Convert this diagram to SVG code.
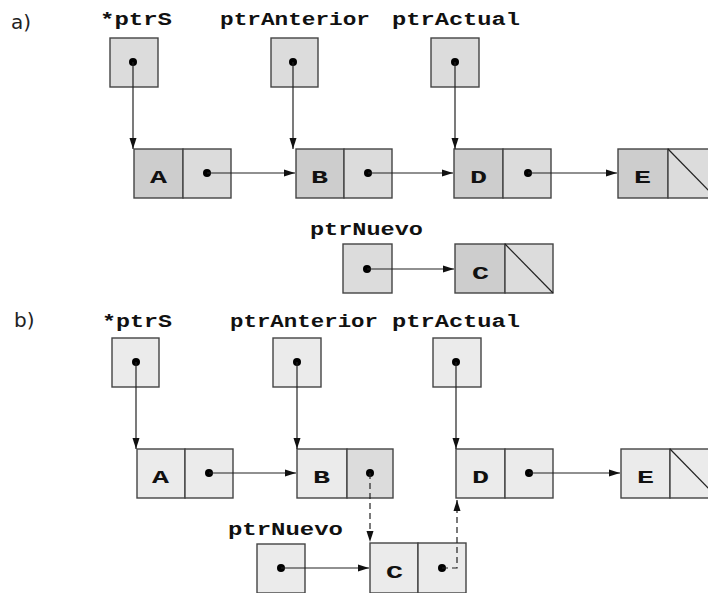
<svg xmlns="http://www.w3.org/2000/svg" width="708" height="593" viewBox="0 0 708 593">
<style>
.lbl{font-family:"Liberation Mono","Courier New",monospace;font-weight:bold;font-size:19px;fill:#111}
.val{font-family:"Liberation Mono","Courier New",monospace;font-weight:bold;font-size:18px;fill:#111}
.part{font-family:"DejaVu Sans","Liberation Sans",sans-serif;font-size:20px;fill:#222}
.ca{fill:#cdcdcd;stroke:#444;stroke-width:1.4}
.cb{fill:#dcdcdc;stroke:#444;stroke-width:1.4}
.cl{fill:#ebebeb;stroke:#444;stroke-width:1.4}
.dot{fill:#000}
.con{stroke:#222;stroke-width:1.2;fill:none}
.dash{stroke:#222;stroke-width:1.2;fill:none;stroke-dasharray:6,4}
.nil{stroke:#222;stroke-width:1.2}
</style>
<defs>
<marker id="ah" markerUnits="userSpaceOnUse" markerWidth="12" markerHeight="8" refX="11" refY="4" orient="auto">
<path d="M0,0.5 L11,4 L0,7.5 z" fill="#111"/>
</marker>
</defs>
<text class="part" x="11" y="29">a)</text>
<text class="part" x="14" y="327">b)</text>

<!-- part a -->
<g id="a-ptrS">
<text class="lbl" x="100" y="25" textLength="72" lengthAdjust="spacingAndGlyphs">*ptrS</text>
<rect class="cb" x="110" y="38" width="48" height="49"/>
<circle class="dot" cx="133" cy="62" r="4"/>
</g>
<g id="a-ptrAnterior">
<text class="lbl" x="220" y="25" textLength="150" lengthAdjust="spacingAndGlyphs">ptrAnterior</text>
<rect class="cb" x="271" y="38" width="47" height="49"/>
<circle class="dot" cx="293" cy="62" r="4"/>
</g>
<g id="a-ptrActual">
<text class="lbl" x="392" y="25" textLength="128" lengthAdjust="spacingAndGlyphs">ptrActual</text>
<rect class="cb" x="431" y="38" width="48" height="49"/>
<circle class="dot" cx="455" cy="62" r="4"/>
</g>
<g id="a-A">
<rect class="ca" x="134" y="149" width="49" height="49"/>
<rect class="cb" x="183" y="149" width="48" height="49"/>
<text class="val" x="150" y="183" textLength="17" lengthAdjust="spacingAndGlyphs">A</text>
<circle class="dot" cx="207" cy="173" r="4"/>
</g>
<g id="a-B">
<rect class="ca" x="296" y="149" width="48" height="49"/>
<rect class="cb" x="344" y="149" width="48" height="49"/>
<text class="val" x="311" y="183" textLength="17" lengthAdjust="spacingAndGlyphs">B</text>
<circle class="dot" cx="368" cy="173" r="4"/>
</g>
<g id="a-D">
<rect class="ca" x="454" y="149" width="49" height="49"/>
<rect class="cb" x="503" y="149" width="48" height="49"/>
<text class="val" x="470" y="183" textLength="17" lengthAdjust="spacingAndGlyphs">D</text>
<circle class="dot" cx="528" cy="173" r="4"/>
</g>
<g id="a-E">
<rect class="ca" x="618" y="149" width="50" height="49"/>
<rect class="cb" x="668" y="149" width="48" height="49"/>
<line class="nil" x1="668" y1="149" x2="716" y2="198"/>
<text class="val" x="634" y="183" textLength="17" lengthAdjust="spacingAndGlyphs">E</text>
</g>
<g id="a-ptrNuevo">
<text class="lbl" x="310" y="235" textLength="113" lengthAdjust="spacingAndGlyphs">ptrNuevo</text>
<rect class="cb" x="343" y="244" width="49" height="49"/>
<circle class="dot" cx="367" cy="269" r="4"/>
</g>
<g id="a-C">
<rect class="ca" x="455" y="244" width="50" height="49"/>
<rect class="cb" x="505" y="244" width="48" height="49"/>
<line class="nil" x1="505" y1="244" x2="553" y2="293"/>
<text class="val" x="472" y="279" textLength="17" lengthAdjust="spacingAndGlyphs">C</text>
</g>

<!-- part b -->
<g id="b-ptrS">
<text class="lbl" x="102" y="327" textLength="70" lengthAdjust="spacingAndGlyphs">*ptrS</text>
<rect class="cl" x="112" y="338" width="47" height="49"/>
<circle class="dot" cx="136" cy="362" r="4"/>
</g>
<g id="b-ptrAnterior">
<text class="lbl" x="230" y="327" textLength="148" lengthAdjust="spacingAndGlyphs">ptrAnterior</text>
<rect class="cl" x="273" y="338" width="48" height="49"/>
<circle class="dot" cx="297" cy="362" r="4"/>
</g>
<g id="b-ptrActual">
<text class="lbl" x="392" y="327" textLength="128" lengthAdjust="spacingAndGlyphs">ptrActual</text>
<rect class="cl" x="433" y="338" width="48" height="49"/>
<circle class="dot" cx="456" cy="362" r="4"/>
</g>
<g id="b-A">
<rect class="cl" x="137" y="449" width="48" height="49"/>
<rect class="cl" x="185" y="449" width="48" height="49"/>
<text class="val" x="152" y="483" textLength="17" lengthAdjust="spacingAndGlyphs">A</text>
<circle class="dot" cx="209" cy="473" r="4"/>
</g>
<g id="b-B">
<rect class="cl" x="297" y="449" width="50" height="49"/>
<rect class="cb" x="347" y="449" width="46" height="49"/>
<text class="val" x="313" y="483" textLength="17" lengthAdjust="spacingAndGlyphs">B</text>
<circle class="dot" cx="370" cy="473" r="4"/>
</g>
<g id="b-D">
<rect class="cl" x="456" y="449" width="49" height="49"/>
<rect class="cl" x="505" y="449" width="48" height="49"/>
<text class="val" x="472" y="483" textLength="17" lengthAdjust="spacingAndGlyphs">D</text>
<circle class="dot" cx="529" cy="473" r="4"/>
</g>
<g id="b-E">
<rect class="cl" x="621" y="449" width="49" height="49"/>
<rect class="cl" x="670" y="449" width="48" height="49"/>
<line class="nil" x1="670" y1="449" x2="718" y2="498"/>
<text class="val" x="637" y="483" textLength="17" lengthAdjust="spacingAndGlyphs">E</text>
</g>
<g id="b-ptrNuevo">
<text class="lbl" x="228" y="535" textLength="115" lengthAdjust="spacingAndGlyphs">ptrNuevo</text>
<rect class="cl" x="257" y="544" width="48" height="49"/>
<circle class="dot" cx="281" cy="568" r="4"/>
</g>
<g id="b-C">
<rect class="cl" x="370" y="543" width="48" height="50"/>
<rect class="cl" x="418" y="543" width="48" height="50"/>
<text class="val" x="386" y="578" textLength="17" lengthAdjust="spacingAndGlyphs">C</text>
<circle class="dot" cx="442" cy="568" r="4"/>
</g>

<g id="connectors">
<line class="con" x1="133" y1="62" x2="133" y2="149" marker-end="url(#ah)"/>
<line class="con" x1="293" y1="62" x2="293" y2="149" marker-end="url(#ah)"/>
<line class="con" x1="455" y1="62" x2="455" y2="149" marker-end="url(#ah)"/>
<line class="con" x1="207" y1="173" x2="295" y2="173" marker-end="url(#ah)"/>
<line class="con" x1="368" y1="173" x2="453" y2="173" marker-end="url(#ah)"/>
<line class="con" x1="528" y1="173" x2="617" y2="173" marker-end="url(#ah)"/>
<line class="con" x1="367" y1="269" x2="454" y2="269" marker-end="url(#ah)"/>

<line class="con" x1="136" y1="362" x2="136" y2="449" marker-end="url(#ah)"/>
<line class="con" x1="297" y1="362" x2="297" y2="449" marker-end="url(#ah)"/>
<line class="con" x1="456" y1="362" x2="456" y2="449" marker-end="url(#ah)"/>
<line class="con" x1="209" y1="473" x2="296" y2="473" marker-end="url(#ah)"/>
<line class="con" x1="529" y1="473" x2="620" y2="473" marker-end="url(#ah)"/>
<line class="dash" x1="370" y1="473" x2="370" y2="542" marker-end="url(#ah)"/>
<line class="con" x1="281" y1="568" x2="369" y2="568" marker-end="url(#ah)"/>
<polyline class="dash" points="442,568 457,568 457,500" marker-end="url(#ah)"/>
</g>
</svg>
